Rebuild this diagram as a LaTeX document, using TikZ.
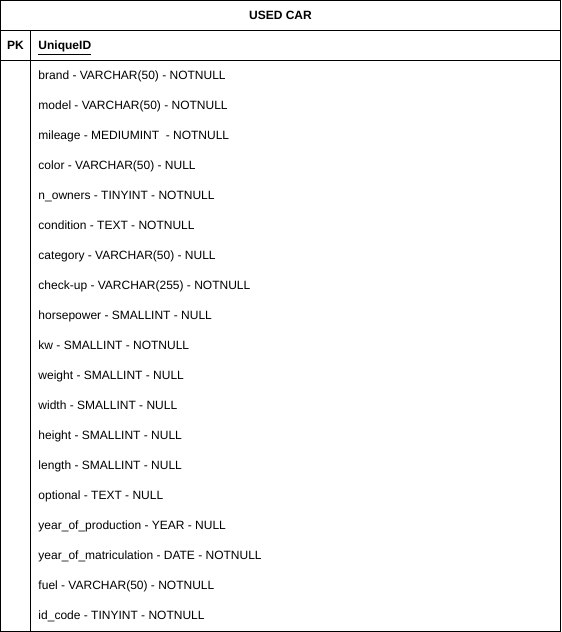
\documentclass[tikz,border=0pt]{standalone}
\usepackage{fontspec}
\setmainfont{Liberation Sans}
\usetikzlibrary{positioning}

\begin{document}
\begin{tikzpicture}[x=0.75pt,y=-0.75pt,line width=0.75pt,
		field/.style={anchor=base west,inner sep=0pt,font=\fontsize{9}{11}\selectfont},
		head/.style={anchor=base,inner sep=0pt,font=\fontsize{9}{11}\selectfont\bfseries}]
		\useasboundingbox (0,0) rectangle (561,632);
		\draw (0.5,0.5) rectangle (560.5,631);
		\draw (0.5,30.5) -- (560.5,30.5);
		\draw (0.5,60.5) -- (560.5,60.5);
		\draw (30.5,30.5) -- (30.5,631);
		\node[head] (title) at (280.5,19.8) {USED CAR};
		\node[head] (pk) at (15.5,49.8) {PK};
		\node[head,anchor=base west] (uid) at (38,49.8) {\underline{UniqueID}};
		\foreach \txt [count=\i from 0] in {brand - VARCHAR(50) - NOTNULL,
			model - VARCHAR(50) - NOTNULL,
			mileage - MEDIUMINT~ - NOTNULL,
			color - VARCHAR(50) - NULL,
			n\_owners - TINYINT - NOTNULL,
			condition - TEXT - NOTNULL,
			category - VARCHAR(50) - NULL,
			check-up - VARCHAR(255) - NOTNULL,
			horsepower - SMALLINT - NULL,
			kw - SMALLINT - NOTNULL,
			weight - SMALLINT - NULL,
			width - SMALLINT - NULL,
			height - SMALLINT - NULL,
			length - SMALLINT - NULL,
			optional - TEXT - NULL,
			year\_of\_production - YEAR - NULL,
			year\_of\_matriculation - DATE - NOTNULL,
			fuel - VARCHAR(50) - NOTNULL,
			id\_code - TINYINT - NOTNULL}{
			\node[field] (f\i) at (38,79.8+30*\i) {\txt};
		}
	\end{tikzpicture}
\end{document}
